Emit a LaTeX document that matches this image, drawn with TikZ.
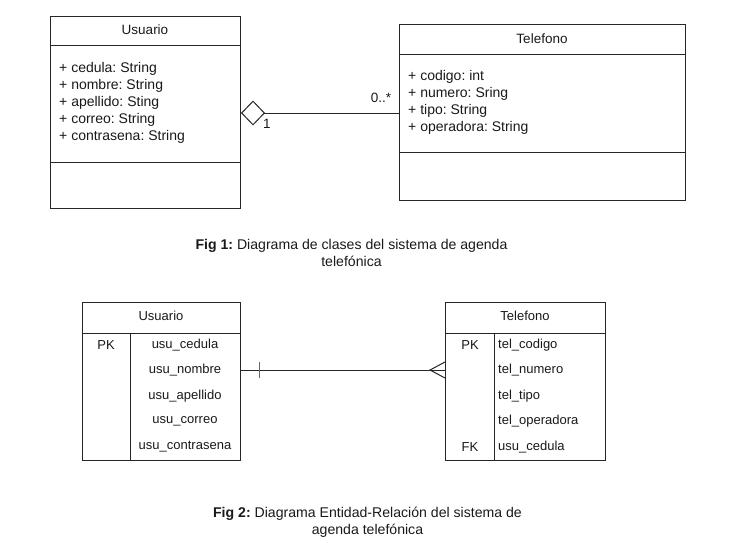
\documentclass[tikz,border=0pt]{standalone}
\usepackage{fontspec}
\setmainfont{Liberation Sans}
\usetikzlibrary{positioning,arrows.meta}
\frenchspacing

\begin{document}
\begin{tikzpicture}[x=1pt, y=-1pt,
        box/.style = {draw=black!85, line width=1pt, anchor=north west, inner sep=0pt},
        sep/.style = {draw=black!85, line width=1pt},
        attr/.style = {anchor=west, inner sep=0pt, text=black!90, font=\fontsize{14}{17}\selectfont},
        title/.style = {inner sep=0pt, text=black!90, font=\fontsize{13.5}{17}\selectfont},
        field/.style = {inner sep=0pt, text=black!90, font=\fontsize{13}{16}\selectfont},
        caption/.style = {align=center, inner sep=0pt, text=black!90, font=\fontsize{14.1}{17}\selectfont}]
        \useasboundingbox (0,0) rectangle (742,542);

        % diagrama de clases
        \node [box, minimum width=190pt, minimum height=192pt] (usuario) at (50,16) {};
        \node [title] (usuarioT) at (145,30) {Usuario};
        \draw [sep] (50,45) -- (240,45);
        \draw [sep] (50,162) -- (240,162);
        \foreach \t [count=\i] in {cedula: String, nombre: String, apellido: Sting, correo: String, contrasena: String}
            \node [attr] (ua\i) at (59,{69+17*(\i-1)}) {+ \t};

        \node [box, minimum width=286pt, minimum height=176pt] (telefono) at (399,24) {};
        \node [title] (telefonoT) at (542,39) {Telefono};
        \draw [sep] (399,54) -- (685,54);
        \draw [sep] (399,152) -- (685,152);
        \foreach \t [count=\i] in {codigo: int, numero: Sring, tipo: String, operadora: String}
            \node [attr] (ta\i) at (408,{77+17*(\i-1)}) {+ \t};

        \coordinate (aggU) at (usuario.east |- 0,113);
        \coordinate (aggT) at (telefono.west |- 0,113);
        \draw [sep, -{Diamond[open, length=24pt, width=25pt, line width=1pt]}] (aggT) -- (aggU);
        \node [title] (mult1) at (267,124) {1};
        \node [title] (mult2) at (381,98) {0..*};

        \node [caption] (cap1) at (351.5,253) {\textbf{Fig 1:} Diagrama de clases del sistema de agenda\\telefónica};

        % diagrama entidad-relacion
        \node [box, minimum width=158pt, minimum height=158pt] (usuER) at (82,302) {};
        \node [field] (usuERT) at (161,316) {Usuario};
        \draw [sep] (82,333) -- (240,333);
        \draw [sep] (130,333) -- (130,460);
        \node [field] (usuPK) at (106,345) {PK};
        \foreach \t [count=\i] in {usu\_cedula, usu\_nombre, usu\_apellido, usu\_correo, usu\_contrasena}
            \node [field] (uf\i) at (185,{345+25.5*(\i-1)}) {\t};

        \node [box, minimum width=160pt, minimum height=158pt] (telER) at (445,302) {};
        \node [field] (telERT) at (525,316) {Telefono};
        \draw [sep] (445,333) -- (605,333);
        \draw [sep] (494,333) -- (494,460);
        \node [field] (telPK) at (470,345) {PK};
        \node [field] (telFK) at (470,447) {FK};
        \foreach \t [count=\i] in {tel\_codigo, tel\_numero, tel\_tipo, tel\_operadora, usu\_cedula}
            \node [field, anchor=west] (tf\i) at (498,{345+25.5*(\i-1)}) {\t};

        \coordinate (relU) at (usuER.east |- 0,370);
        \coordinate (relT) at (telER.west |- 0,370);
        \draw [sep] (relU) -- (relT);
        \draw [sep, black!60] ([xshift=18pt, yshift=-8pt]relU) -- ([xshift=18pt, yshift=8pt]relU);
        \draw [sep] ([yshift=-8pt]relT) -- ([xshift=-15pt]relT) -- ([yshift=8pt]relT);

        \node [caption] (cap2) at (367.5,522) {\textbf{Fig 2:} Diagrama Entidad-Relación del sistema de\\agenda telefónica};
\end{tikzpicture}
\end{document}
